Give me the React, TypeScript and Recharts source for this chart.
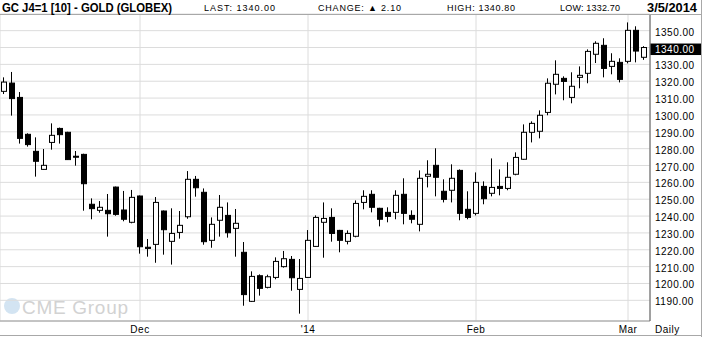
import { BarChart, Bar, XAxis, YAxis, CartesianGrid } from "recharts";

// trading days, Nov 6 2013 .. Mar 5 2014
const dates = [
  "2013-11-06", "2013-11-07", "2013-11-08", "2013-11-11", "2013-11-12", "2013-11-13", "2013-11-14", "2013-11-15",
  "2013-11-18", "2013-11-19", "2013-11-20", "2013-11-21", "2013-11-22", "2013-11-25", "2013-11-26", "2013-11-27",
  "2013-11-29",
  "2013-12-02", "2013-12-03", "2013-12-04", "2013-12-05", "2013-12-06", "2013-12-09", "2013-12-10", "2013-12-11",
  "2013-12-12", "2013-12-13", "2013-12-16", "2013-12-17", "2013-12-18", "2013-12-19", "2013-12-20", "2013-12-23",
  "2013-12-24", "2013-12-26", "2013-12-27", "2013-12-30", "2013-12-31",
  "2014-01-02", "2014-01-03", "2014-01-06", "2014-01-07", "2014-01-08", "2014-01-09", "2014-01-10", "2014-01-13",
  "2014-01-14", "2014-01-15", "2014-01-16", "2014-01-17", "2014-01-21", "2014-01-22", "2014-01-23", "2014-01-24",
  "2014-01-27", "2014-01-28", "2014-01-29", "2014-01-30", "2014-01-31",
  "2014-02-03", "2014-02-04", "2014-02-05", "2014-02-06", "2014-02-07", "2014-02-10", "2014-02-11", "2014-02-12",
  "2014-02-13", "2014-02-14", "2014-02-18", "2014-02-19", "2014-02-20", "2014-02-21", "2014-02-24", "2014-02-25",
  "2014-02-26", "2014-02-27", "2014-02-28",
  "2014-03-03", "2014-03-04", "2014-03-05",
];

const opens = [
  1314.0, 1318.9, 1310.4, 1288.5, 1278.4, 1267.7, 1283.7, 1292.0, 1289.7, 1275.5, 1276.6, 1247.0, 1243.4, 1243.4, 1257.2, 1243.6,
  1236.3, 1251.9, 1221.5, 1223.2, 1243.0, 1225.0, 1230.3, 1239.6, 1261.8, 1254.1, 1225.6, 1237.5, 1240.4, 1232.7, 1218.5, 1189.4,
  1204.6, 1197.7, 1203.6, 1210.0, 1214.3, 1196.5, 1203.6, 1222.0, 1236.3, 1239.2, 1231.5, 1225.0, 1228.0, 1248.1, 1252.9, 1244.6,
  1242.2, 1242.2, 1252.9, 1240.4, 1235.1, 1263.6, 1270.1, 1254.7, 1255.3, 1267.1, 1244.0, 1241.6, 1257.6, 1253.5, 1257.6, 1256.4,
  1264.8, 1273.7, 1289.7, 1290.3, 1301.5, 1318.2, 1321.7, 1310.4, 1322.3, 1324.7, 1336.0, 1341.3, 1328.8, 1331.2, 1331.8, 1350.2,
  1334.2,
];

const highs = [
  1322.3, 1325.5, 1313.6, 1289.1, 1286.7, 1279.8, 1295.0, 1292.5, 1290.0, 1278.6, 1277.0, 1250.5, 1248.9, 1253.1, 1257.5, 1254.9,
  1255.5, 1252.2, 1226.4, 1251.3, 1243.3, 1244.6, 1243.0, 1266.7, 1263.8, 1256.4, 1239.2, 1252.5, 1248.1, 1244.2, 1224.6, 1207.2,
  1205.4, 1205.2, 1215.5, 1219.3, 1216.3, 1214.5, 1231.7, 1240.4, 1248.1, 1244.6, 1231.8, 1231.5, 1249.3, 1255.3, 1255.3, 1244.9,
  1245.2, 1255.3, 1262.4, 1243.4, 1267.1, 1273.1, 1280.2, 1261.8, 1270.7, 1267.7, 1254.7, 1265.9, 1260.6, 1274.2, 1267.7, 1271.9,
  1277.8, 1294.4, 1296.2, 1302.7, 1321.7, 1332.4, 1322.9, 1325.3, 1328.8, 1338.9, 1343.7, 1345.5, 1336.6, 1333.6, 1354.9, 1352.6,
  1340.8,
];

const lows = [
  1312.4, 1299.6, 1283.0, 1281.2, 1263.4, 1267.5, 1279.4, 1283.0, 1273.3, 1269.9, 1243.2, 1238.1, 1242.0, 1227.8, 1240.2, 1236.9,
  1235.7, 1217.7, 1215.9, 1212.3, 1217.1, 1211.2, 1226.6, 1238.4, 1251.5, 1223.0, 1221.2, 1227.8, 1227.2, 1215.9, 1186.8, 1189.0,
  1192.8, 1197.1, 1202.5, 1209.4, 1195.7, 1182.1, 1203.3, 1221.7, 1215.3, 1224.8, 1218.5, 1223.2, 1227.4, 1244.0, 1242.2, 1233.9,
  1236.3, 1238.1, 1235.1, 1235.7, 1230.9, 1257.0, 1251.7, 1248.1, 1248.1, 1237.5, 1238.1, 1240.4, 1247.0, 1251.7, 1252.3, 1255.3,
  1264.2, 1273.4, 1283.7, 1286.1, 1299.8, 1312.2, 1308.7, 1306.9, 1315.8, 1318.8, 1330.8, 1322.3, 1324.1, 1319.3, 1330.6, 1331.2,
  1332.7,
];

const closes = [
  1319.5, 1309.7, 1286.1, 1282.4, 1272.5, 1270.1, 1287.9, 1288.3, 1273.5, 1275.0, 1259.2, 1244.4, 1245.2, 1241.4, 1241.0, 1238.1,
  1251.1, 1221.8, 1220.8, 1248.1, 1231.9, 1229.7, 1234.5, 1261.8, 1256.8, 1224.8, 1235.1, 1245.2, 1230.1, 1235.7, 1193.4, 1204.2,
  1197.1, 1204.0, 1213.1, 1214.7, 1203.4, 1203.0, 1225.6, 1239.2, 1238.6, 1229.7, 1225.6, 1229.7, 1247.5, 1251.7, 1245.2, 1238.1,
  1239.8, 1252.3, 1241.6, 1238.1, 1262.4, 1264.8, 1263.0, 1249.9, 1262.4, 1241.6, 1239.2, 1260.0, 1250.3, 1257.0, 1256.4, 1263.0,
  1274.8, 1289.7, 1295.0, 1299.8, 1318.8, 1324.1, 1319.9, 1317.0, 1323.5, 1337.7, 1342.5, 1327.6, 1331.8, 1321.1, 1350.2, 1337.9,
  1340.0,
];

const priceTicks = [1190, 1200, 1210, 1220, 1230, 1240, 1250, 1260, 1270, 1280, 1290, 1300, 1310, 1320, 1330, 1340, 1350];
const monthTicks = ["2013-12-02", "2014-01-02", "2014-02-03", "2014-03-03"];
const monthLabels = ["Dec", "'14", "Feb", "Mar"];

const data = dates.map((date, i) => ({
  date,
  open: opens[i],
  high: highs[i],
  low: lows[i],
  close: closes[i],
  range: [lows[i], highs[i]],
}));

const lastClose = closes[closes.length - 1];
const FONT = "'Liberation Sans', Arial, sans-serif";

function Candle(props: any) {
  const { x, y, width, height, payload } = props;
  const { open, close, high, low } = payload;
  const cx = Math.round(x + width / 2);
  const py = (v: number) => y + ((high - v) / (high - low)) * height;
  const top = py(Math.max(open, close));
  const bot = py(Math.min(open, close));
  const up = close >= open;
  return (
    <g>
      <line x1={cx - 0.5} x2={cx - 0.5} y1={y} y2={y + height} stroke="#000" strokeWidth={1} />
      <rect
        x={cx - 2.5}
        y={top}
        width={5}
        height={Math.max(bot - top, 1)}
        fill={up ? "#fff" : "#000"}
        stroke="#000"
        strokeWidth={1}
      />
    </g>
  );
}

function PriceTick({ x, y, payload }: any) {
  const v = payload.value as number;
  const label = v.toFixed(2);
  if (v === lastClose) {
    return (
      <g>
        <rect x={x - 4.5} y={y - 4} width={52} height={11.5} fill="#000" />
        <text x={x} y={y} dy={5} fill="#fff" fontSize={10} fontFamily={FONT} letterSpacing={0.5}>
          {label}
        </text>
      </g>
    );
  }
  return (
    <text x={x} y={y} dy={5} fill="#000" fontSize={10} fontFamily={FONT} letterSpacing={0.5}>
      {label}
    </text>
  );
}

function MonthTick({ x, payload }: any) {
  const idx = monthTicks.indexOf(payload.value);
  return (
    <text x={x} y={333} textAnchor="middle" fill="#000" fontSize={10} fontFamily={FONT} letterSpacing={0.5}>
      {idx >= 0 ? monthLabels[idx] : ""}
    </text>
  );
}

export default function App() {
  return (
    <div style={{ position: "absolute", left: 0, top: 0, width: 702, height: 337, background: "#fff" }}>
      {/* watermark */}
      <svg width={702} height={337} style={{ position: "absolute", left: 0, top: 0 }}>
        <circle cx={12} cy={306} r={8} fill="#d3e4f2" />
        <text x={22} y={313.5} fontSize={19} fontFamily={FONT} fill="#d2d2d2" textLength={106}>
          CME Group
        </text>
      </svg>

      <div style={{ position: "absolute", left: 0, top: 0 }}>
        <BarChart width={702} height={337} data={data} margin={{ top: 14, right: 0, bottom: 0, left: 0 }}>
          <CartesianGrid stroke="#dcdcdc" />
          <XAxis
            dataKey="date"
            ticks={monthTicks}
            interval={0}
            height={16}
            padding={{ left: 0, right: 2 }}
            axisLine={{ stroke: "#9a9a9a" }}
            tickLine={false}
            tick={<MonthTick />}
          />
          <YAxis
            orientation="right"
            domain={[1177.74, 1359.89]}
            allowDataOverflow
            ticks={priceTicks}
            interval={0}
            width={52}
            axisLine={{ stroke: "#555" }}
            tickLine={false}
            tickSize={0}
            tickMargin={5}
            tick={<PriceTick />}
          />
          <Bar dataKey="range" barSize={6} shape={Candle} isAnimationActive={false} />
        </BarChart>
      </div>

      {/* header and frame */}
      <svg width={702} height={337} style={{ position: "absolute", left: 0, top: 0, pointerEvents: "none" }}>
        <line x1={0} x2={702} y1={14.5} y2={14.5} stroke="#a8a8a8" />
        <line x1={701.5} x2={701.5} y1={0} y2={337} stroke="#a8a8a8" />
        <line x1={0} x2={702} y1={335.5} y2={335.5} stroke="#a8a8a8" />
        <text x={2} y={11.5} fontSize={12} fontWeight="bold" fontFamily={FONT} textLength={170} lengthAdjust="spacingAndGlyphs">
          GC J4=1 [10] - GOLD (GLOBEX)
        </text>
        <text x={204} y={10.5} fontSize={9} fontFamily={FONT} textLength={71}>
          LAST: 1340.00
        </text>
        <text x={318} y={10.5} fontSize={9} fontFamily={FONT} textLength={83}>
          CHANGE: ▲ 2.10
        </text>
        <text x={447} y={10.5} fontSize={9} fontFamily={FONT} textLength={68}>
          HIGH: 1340.80
        </text>
        <text x={560} y={10.5} fontSize={9} fontFamily={FONT} textLength={60}>
          LOW: 1332.70
        </text>
        <text x={647} y={11.5} fontSize={12} fontWeight="bold" fontFamily={FONT} textLength={50} lengthAdjust="spacingAndGlyphs">
          3/5/2014
        </text>
        <text x={655} y={333} fontSize={10} fontFamily={FONT} letterSpacing={0.5}>
          Daily
        </text>
      </svg>
    </div>
  );
}
